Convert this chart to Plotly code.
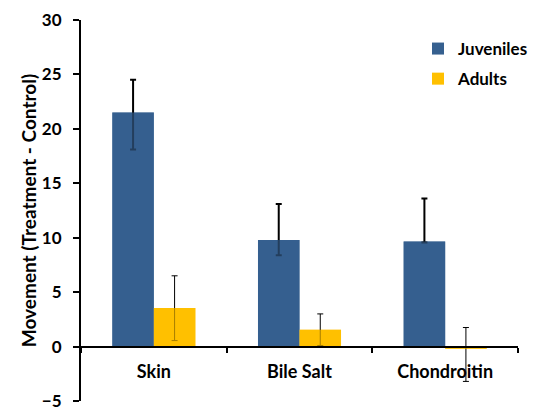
import plotly.graph_objects as go

categories = ["Skin", "Bile Salt", "Chondroitin"]
juveniles = [21.5, 9.8, 9.65]
juveniles_err_plus = [3.0, 3.3, 3.95]
juveniles_err_minus = [3.4, 1.4, 0.1]
adults = [3.55, 1.55, -0.2]
adults_err_plus = [2.95, 1.45, 1.95]
adults_err_minus = [3.0, 1.45, 3.0]
y_ticks = [-5, 0, 5, 10, 15, 20, 25, 30]

BLUE = "#36608F"
GOLD = "#FFC000"
FONT = "Lato"

fig = go.Figure()
fig.add_trace(go.Bar(
    name="Juveniles", x=categories, y=juveniles, offsetgroup="j",
    marker=dict(color=BLUE, line=dict(width=0)),
    error_y=dict(type="data", symmetric=False, array=juveniles_err_plus,
                 arrayminus=juveniles_err_minus, color="black", thickness=2, width=3),
    legendgroup="j",
))
fig.add_trace(go.Bar(
    name="Adults", x=categories, y=adults, offsetgroup="a",
    marker=dict(color=GOLD, line=dict(width=0)),
    error_y=dict(type="data", symmetric=False, array=adults_err_plus,
                 arrayminus=adults_err_minus, color="black", thickness=1, width=3),
    legendgroup="a",
))
# translucent overlays so the error bar segment inside each bar looks faded
fig.add_trace(go.Bar(
    x=categories, y=juveniles, offsetgroup="j", showlegend=False, hoverinfo="skip",
    marker=dict(color="rgba(54,96,143,0.65)", line=dict(width=0)),
    legendgroup="j",
))
fig.add_trace(go.Bar(
    x=categories, y=adults, offsetgroup="a", showlegend=False, hoverinfo="skip",
    marker=dict(color="rgba(255,192,0,0.65)", line=dict(width=0)),
    legendgroup="a",
))

# the page body has an 8px margin, so the figure is shifted by 8px
fig.update_layout(
    width=529, height=412,
    margin=dict(l=73, r=19, t=12, b=19, autoexpand=False),
    paper_bgcolor="white", plot_bgcolor="white",
    barmode="group", bargap=0.43, bargroupgap=0,
    font=dict(family=FONT, size=17, color="black"),
    showlegend=True,
    legend=dict(x=(418 - 81) / 437, y=(401 - 31) / 381, xanchor="left", yanchor="top",
                font=dict(family=FONT, size=17, color="black", weight="bold"),
                tracegroupgap=5, traceorder="grouped",
                bgcolor="rgba(0,0,0,0)"),
    xaxis=dict(
        type="category", anchor="free", position=5 / 35, automargin=False,
        showline=True, linecolor="black", linewidth=2,
        ticks="outside", ticklen=5, tickwidth=2, tickcolor="black",
        tickson="boundaries", showgrid=False, zeroline=False,
        tickfont=dict(family=FONT, size=18, weight="bold"),
        ticklabelstandoff=9,
    ),
    yaxis=dict(
        range=[-5, 30], tickvals=y_ticks, showgrid=False, zeroline=False,
        automargin=False, ticklabeloverflow="allow",
        showline=True, linecolor="black", linewidth=2,
        ticks="outside", ticklen=6, tickwidth=2, tickcolor="black",
        ticklabelstandoff=8,
        tickfont=dict(family=FONT, size=17, weight="bold"),
        title=dict(text="Movement (Treatment - Control)",
                   font=dict(family=FONT, size=19, weight="bold"), standoff=0),
    ),
)

fig.write_html("out.html")
